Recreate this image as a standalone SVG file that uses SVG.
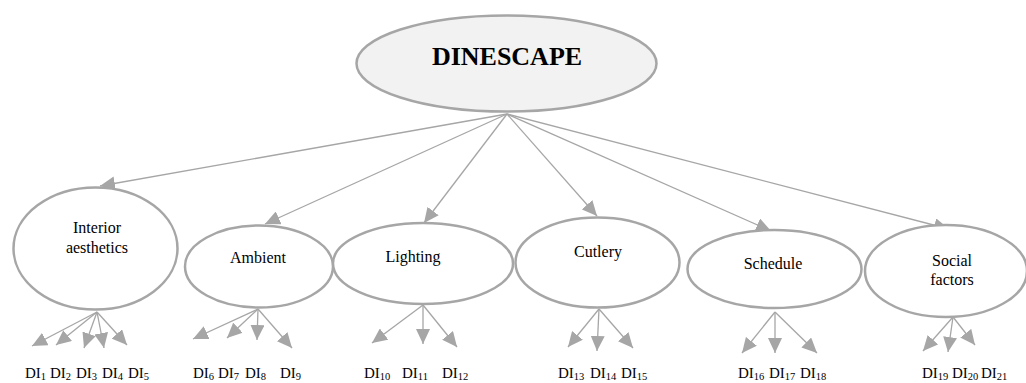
<svg xmlns="http://www.w3.org/2000/svg" width="1026" height="383" viewBox="0 0 1026 383">
<defs>
<marker id="ah" markerUnits="userSpaceOnUse" markerWidth="16" markerHeight="14" refX="15" refY="7" orient="auto" viewBox="0 0 16 14">
<path d="M0,0 L15,7 L0,14 z" fill="#a6a6a6"/>
</marker>
</defs>
<style>
.node{fill:#ffffff;stroke:#a6a6a6;stroke-width:2.5}
.root{fill:#f2f2f2;stroke:#a6a6a6;stroke-width:2.5}
.lbl{font-family:"Liberation Serif","Times New Roman",serif;font-size:16px;fill:#000;text-anchor:middle}
.title{font-family:"Liberation Serif","Times New Roman",serif;font-size:26px;font-weight:bold;fill:#000;text-anchor:middle}
.di{font-family:"Liberation Serif","Times New Roman",serif;font-size:15px;fill:#000}
.sub{font-size:10.5px}
.c{stroke:#a6a6a6;stroke-width:1.3;fill:none;marker-end:url(#ah)}
</style>
<rect width="1026" height="383" fill="#ffffff"/>
<g id="connectors">
<line class="c" x1="507" y1="114" x2="100" y2="186"/>
<line class="c" x1="507" y1="114" x2="265" y2="224"/>
<line class="c" x1="507" y1="114" x2="424" y2="223"/>
<line class="c" x1="507" y1="114" x2="597" y2="216"/>
<line class="c" x1="507" y1="114" x2="771" y2="231"/>
<line class="c" x1="507" y1="114" x2="949" y2="229"/>
<line class="c" x1="97" y1="312" x2="32" y2="346"/>
<line class="c" x1="97" y1="312" x2="56" y2="345"/>
<line class="c" x1="97" y1="312" x2="84" y2="348"/>
<line class="c" x1="97" y1="312" x2="104" y2="348"/>
<line class="c" x1="97" y1="312" x2="127" y2="345"/>
<line class="c" x1="258" y1="309" x2="193" y2="339"/>
<line class="c" x1="258" y1="309" x2="227" y2="338"/>
<line class="c" x1="258" y1="309" x2="257" y2="340"/>
<line class="c" x1="258" y1="309" x2="292" y2="348"/>
<line class="c" x1="423" y1="305" x2="372" y2="343"/>
<line class="c" x1="423" y1="305" x2="423" y2="344"/>
<line class="c" x1="423" y1="305" x2="457" y2="347"/>
<line class="c" x1="599" y1="309" x2="568" y2="347"/>
<line class="c" x1="599" y1="309" x2="597" y2="351"/>
<line class="c" x1="599" y1="309" x2="633" y2="348"/>
<line class="c" x1="775" y1="312" x2="742" y2="353"/>
<line class="c" x1="775" y1="312" x2="775" y2="353"/>
<line class="c" x1="775" y1="312" x2="817" y2="353"/>
<line class="c" x1="953" y1="317" x2="923" y2="351"/>
<line class="c" x1="953" y1="317" x2="948" y2="352"/>
<line class="c" x1="953" y1="317" x2="975" y2="345"/>
</g>
<g id="dinescape">
<ellipse class="root" cx="506.5" cy="63.5" rx="150" ry="48"/>
<text class="title" x="507" y="65">DINESCAPE</text>
</g>
<g id="interior">
<ellipse class="node" cx="95.5" cy="248.5" rx="82" ry="61"/>
<text class="lbl" x="97" y="233">Interior</text>
<text class="lbl" x="97" y="253">aesthetics</text>
</g>
<g id="ambient">
<ellipse class="node" cx="259" cy="266.5" rx="74" ry="41"/>
<text class="lbl" x="258" y="263">Ambient</text>
</g>
<g id="lighting">
<ellipse class="node" cx="423" cy="263.5" rx="90" ry="40.5"/>
<text class="lbl" x="413" y="262">Lighting</text>
</g>
<g id="cutlery">
<ellipse class="node" cx="597.5" cy="262.5" rx="82" ry="45"/>
<text class="lbl" x="598" y="257">Cutlery</text>
</g>
<g id="schedule">
<ellipse class="node" cx="774.5" cy="269" rx="87" ry="39"/>
<text class="lbl" x="773" y="269">Schedule</text>
</g>
<g id="social">
<ellipse class="node" cx="946" cy="271" rx="81" ry="46"/>
<text class="lbl" x="952" y="266">Social</text>
<text class="lbl" x="952" y="285">factors</text>
</g>
<g id="indicators">
<text class="di" y="378"><tspan x="25">DI</tspan><tspan class="sub" dy="2">1</tspan><tspan x="50" dy="-2">DI</tspan><tspan class="sub" dy="2">2</tspan><tspan x="76" dy="-2">DI</tspan><tspan class="sub" dy="2">3</tspan><tspan x="102" dy="-2">DI</tspan><tspan class="sub" dy="2">4</tspan><tspan x="128" dy="-2">DI</tspan><tspan class="sub" dy="2">5</tspan></text>
<text class="di" y="378"><tspan x="193">DI</tspan><tspan class="sub" dy="2">6</tspan><tspan x="218" dy="-2">DI</tspan><tspan class="sub" dy="2">7</tspan><tspan x="245" dy="-2">DI</tspan><tspan class="sub" dy="2">8</tspan><tspan x="280" dy="-2">DI</tspan><tspan class="sub" dy="2">9</tspan></text>
<text class="di" y="378"><tspan x="364">DI</tspan><tspan class="sub" dy="2">10</tspan><tspan x="402" dy="-2">DI</tspan><tspan class="sub" dy="2">11</tspan><tspan x="442" dy="-2">DI</tspan><tspan class="sub" dy="2">12</tspan></text>
<text class="di" y="378"><tspan x="558">DI</tspan><tspan class="sub" dy="2">13</tspan><tspan x="590" dy="-2">DI</tspan><tspan class="sub" dy="2">14</tspan><tspan x="621" dy="-2">DI</tspan><tspan class="sub" dy="2">15</tspan></text>
<text class="di" y="378"><tspan x="738">DI</tspan><tspan class="sub" dy="2">16</tspan><tspan x="769" dy="-2">DI</tspan><tspan class="sub" dy="2">17</tspan><tspan x="800" dy="-2">DI</tspan><tspan class="sub" dy="2">18</tspan></text>
<text class="di" y="378"><tspan x="922">DI</tspan><tspan class="sub" dy="2">19</tspan><tspan x="952" dy="-2">DI</tspan><tspan class="sub" dy="2">20</tspan><tspan x="981" dy="-2">DI</tspan><tspan class="sub" dy="2">21</tspan></text>
</g>
</svg>
